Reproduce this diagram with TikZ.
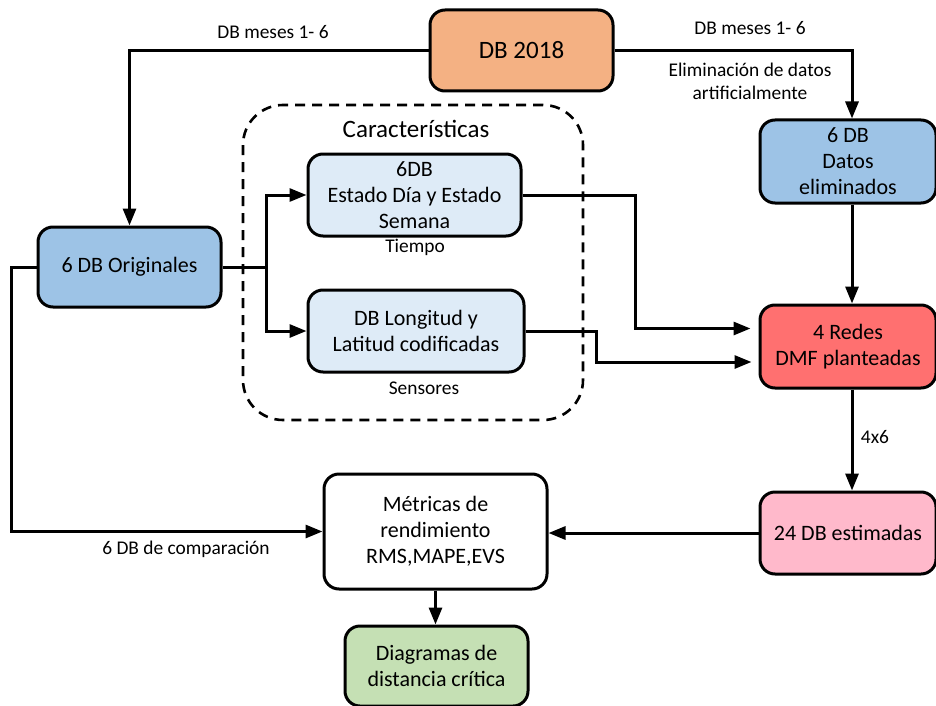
\documentclass[tikz,border=0pt]{standalone}
\usepackage{fontspec}
\setmainfont{Carlito}
\usepackage{tikz}
\usetikzlibrary{arrows.meta, positioning, calc}
\definecolor{dbOrange}{HTML}{F4B183}
\definecolor{dbBlue}{HTML}{9DC3E6}
\definecolor{dbLight}{HTML}{DEEBF7}
\definecolor{dbRed}{HTML}{FF7070}
\definecolor{dbPink}{HTML}{FFB9CB}
\definecolor{dbGreen}{HTML}{C5E0B4}

\begin{document}
\begin{tikzpicture}[x=1pt, y=-1pt,
  block/.style={draw=black, line width=3pt, rounded corners=15pt, align=center,
    font=\fontsize{22}{26}\selectfont, inner sep=2pt},
  lbl/.style={font=\fontsize{19.4}{23}\selectfont, align=center, inner sep=0pt},
  link/.style={line width=3pt},
  arr/.style={link, -{Triangle[length=17pt, width=13pt]}}]
  \useasboundingbox (0,0) rectangle (936,706);

  % contenedor de caracteristicas
  \node[draw=black, line width=2.6pt, dash pattern=on 10pt off 7pt, rounded corners=40pt,
    minimum width=340pt, minimum height=315pt] (carac) at (413,262.5) {};
  \node[font=\fontsize{25}{30}\selectfont, inner sep=0pt] (caractit) at (416,129) {Características};

  \node[block, fill=dbOrange, minimum width=183pt, minimum height=81pt,
    font=\fontsize{25}{30}\selectfont] (db) at (521.5,50.5) {DB 2018};
  \node[block, fill=dbBlue, minimum width=183pt, minimum height=80pt] (orig) at (129.5,267) {6 DB Originales};
  \node[block, fill=dbLight, minimum width=213pt, minimum height=82pt] (est) at (414.5,195)
    {6DB\\Estado Día y Estado\\Semana};
  \node[block, fill=dbLight, minimum width=216pt, minimum height=82pt] (lon) at (416,331)
    {DB Longitud y\\Latitud codificadas};
  \node[block, fill=dbBlue, minimum width=176pt, minimum height=83pt] (elim) at (848,161.5)
    {6 DB\\Datos\\eliminados};
  \node[block, fill=dbRed, minimum width=176pt, minimum height=83pt] (redes) at (848,346.5)
    {4 Redes\\DMF planteadas};
  \node[block, fill=dbPink, minimum width=176pt, minimum height=82pt] (est24) at (848,533)
    {24 DB estimadas};
  \node[block, fill=white, minimum width=223pt, minimum height=115pt] (metr) at (435.5,531.5)
    {Métricas de\\rendimiento\\RMS,MAPE,EVS};
  \node[block, fill=dbGreen, minimum width=183pt, minimum height=80pt] (diag) at (436.5,666)
    {Diagramas de\\distancia crítica};

  \node[lbl] (mesesA) at (273,32) {DB meses 1- 6};
  \node[lbl] (mesesB) at (750,28) {DB meses 1- 6};
  \node[lbl] (elimtxt) at (750,81) {Eliminación de datos\\artificialmente};
  \node[lbl] (tiempo) at (415,247) {Tiempo};
  \node[lbl] (sens) at (424,388) {Sensores};
  \node[lbl] (cuatro) at (875,437) {4x6};
  \node[lbl] (comp) at (186,549) {6 DB de comparación};

  \draw[arr] (db.west) -| (orig.north);
  \draw[arr] (db.east) -| ([xshift=4pt]elim.north);
  \draw[link] (orig.east) -- ++(44,0) coordinate (fork);
  \draw[arr] (fork) |- (est.west);
  \draw[arr] (fork) |- (lon.west);
  \draw[arr, shorten >=8pt] (est.east) -- ++(113,0) |- ([yshift=18pt]redes.west);
  \draw[arr, shorten >=7pt] (lon.east) -- ++(71,0) |- ([yshift=-15.5pt]redes.west);
  \draw[arr] ([xshift=4pt]elim.south) -- ([xshift=4pt]redes.north);
  \draw[arr] ([xshift=4pt]redes.south) -- ([xshift=4pt]est24.north);
  \draw[arr] (est24.west) -- (est24.west -| metr.east);
  \draw[arr] (orig.west) -- ++(-25,0) |- (metr.west);
  \draw[arr] (metr.south) -- (metr.south |- diag.north);
\end{tikzpicture}
\end{document}
